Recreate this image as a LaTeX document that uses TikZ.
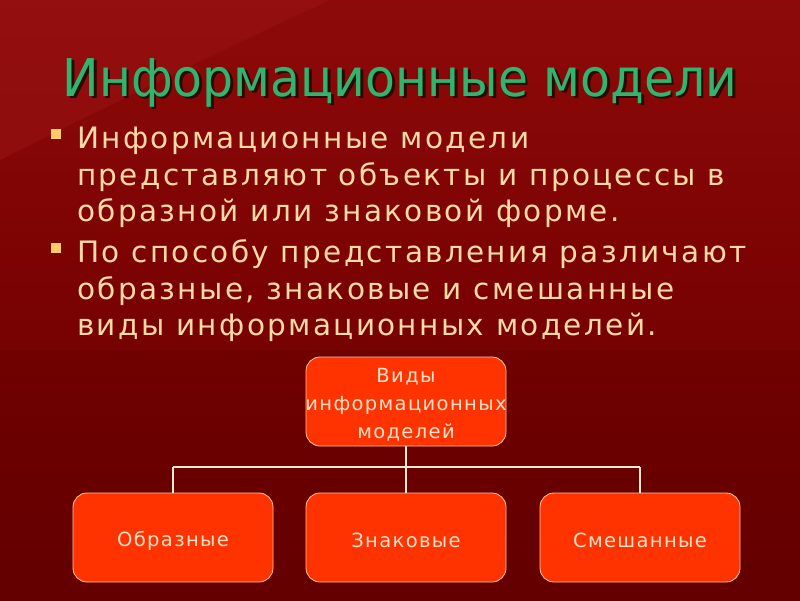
\documentclass[tikz,border=0pt]{standalone}
\usepackage{fontspec}
\setmainfont{DejaVu Sans}
\newfontfamily\titlefont[FakeStretch=0.94]{DejaVu Sans}
\newfontfamily\bodyfont[LetterSpace=8]{DejaVu Sans}
\newfontfamily\boxfont[LetterSpace=7]{DejaVu Sans}
\definecolor{bgtop}{HTML}{8E0A0A}
\definecolor{bgmid}{HTML}{7A0202}
\definecolor{bgbot}{HTML}{640000}
\definecolor{swoosh}{HTML}{9A1414}
\definecolor{titlegreen}{HTML}{2FB56E}
\definecolor{titleshade}{HTML}{2A0A05}
\definecolor{bodytext}{HTML}{FFD9A8}
\definecolor{bulletc}{HTML}{FFCC66}
\definecolor{boxfill}{HTML}{FF3300}
\definecolor{boxline}{HTML}{FFC9A0}
\definecolor{boxtext}{HTML}{FFE2C8}
\definecolor{linkc}{HTML}{FFE8D8}
\tikzset{
  modelbox/.style={draw=boxline, line width=0.8pt, fill=boxfill, rounded corners=14pt,
    minimum width=200pt, minimum height=89pt, inner sep=0pt},
  boxlabel/.style={align=center, inner sep=0pt, text=boxtext, font=\boxfont\fontsize{19.5}{28}\selectfont},
  link/.style={draw=linkc, line width=1.3pt},
  bodyline/.style={text=bodytext, font=\bodyfont\fontsize{29.5}{36}\selectfont, anchor=base west, inner sep=0pt},
  bulletsq/.style={fill=bulletc, minimum size=10pt, inner sep=0pt},
}
\newcommand{\titletext}{Информационные модели}
\begin{document}
\begin{tikzpicture}[x=1pt,y=-1pt]
\useasboundingbox (0,0) rectangle (800,600);
% background
\shade[top color=bgtop, bottom color=bgbot, middle color=bgmid] (0,0) rectangle (800,600);
\fill[swoosh, opacity=0.5] (0,0) -- (330,0) .. controls (200,60) and (80,120) .. (0,160) -- cycle;
\fill[bgbot, opacity=0.35] (0,350) rectangle (800,600);
% title with shadow
\node[font=\titlefont\fontsize{52}{56}\selectfont, anchor=base, inner sep=0pt] (title) at (400,96)
  {\rlap{\kern2.5pt\raisebox{-2.5pt}{\textcolor{titleshade}{\titletext}}}\textcolor{titlegreen}{\titletext}};
% bullets
\node[bulletsq] (b1) at (56,134) {};
\node[bodyline] (l1) at (77,148) {Информационные модели};
\node[bodyline] (l2) at (77,185) {представляют объекты и процессы в};
\node[bodyline] (l3) at (77,221) {образной или знаковой форме.};
\node[bulletsq] (b2) at (56,248) {};
\node[bodyline] (l4) at (77,262) {По способу представления различают};
\node[bodyline] (l5) at (77,299) {образные, знаковые и смешанные};
\node[bodyline] (l6) at (77,335) {виды информационных моделей.};
% diagram
\node[modelbox] (root) at (406,401.5) {};
\node[modelbox] (img) at (173,537.5) {};
\node[modelbox] (sign) at (406,537.5) {};
\node[modelbox] (mix) at (640,537.5) {};
\node[boxlabel] (rootlabel) at ([yshift=-3pt]root.center) {Виды\\информационных\\моделей};
\node[boxlabel] (imglabel) at ([yshift=-3pt]img.center) {Образные};
\node[boxlabel] (signlabel) at ([yshift=-3pt]sign.center) {Знаковые};
\node[boxlabel] (mixlabel) at ([yshift=-3pt]mix.center) {Смешанные};
\coordinate (bus) at (406,467);
\draw[link] (root.south) -- (bus);
\draw[link] (img.north |- bus) -- (mix.north |- bus);
\draw[link] (img.north |- bus) -- (img.north);
\draw[link] (bus) -- (sign.north);
\draw[link] (mix.north |- bus) -- (mix.north);
\end{tikzpicture}
\end{document}
